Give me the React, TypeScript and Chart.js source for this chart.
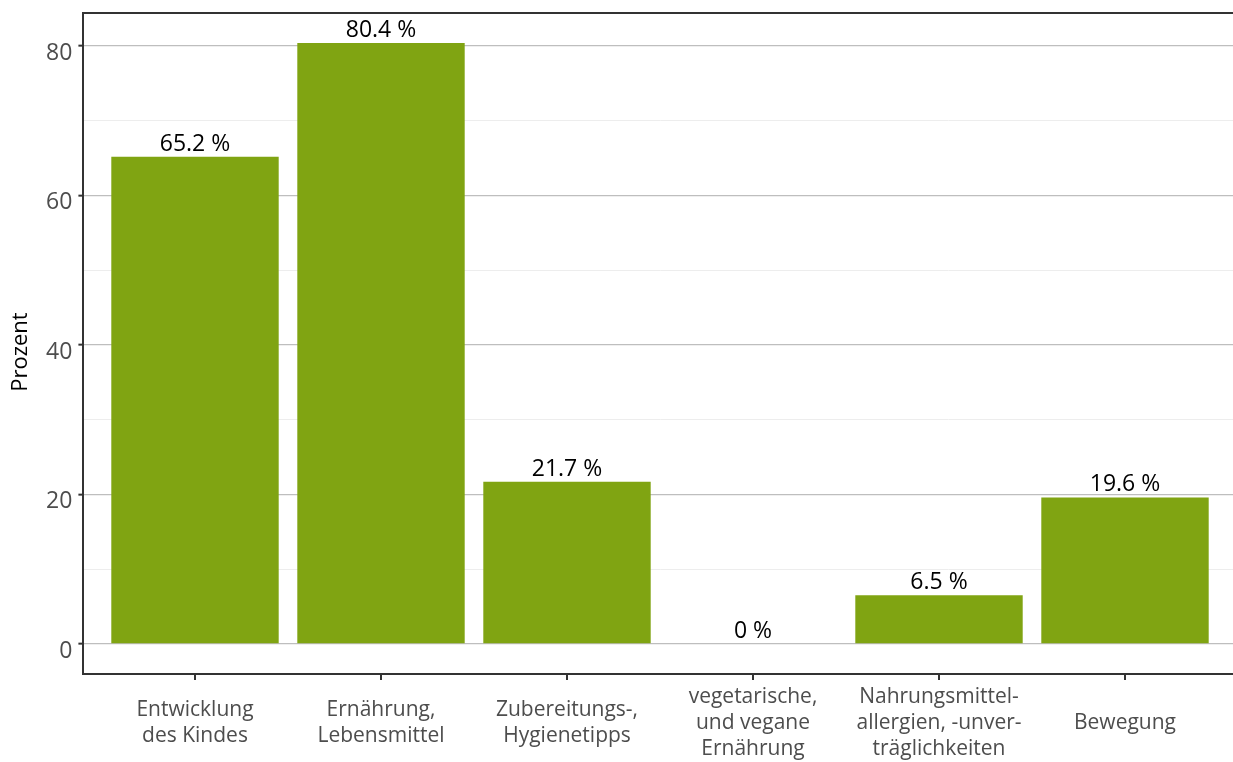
import React, { useEffect, useRef } from 'react';
import { Chart, registerables } from 'chart.js';

Chart.register(...registerables);

const categories: string[][] = [
  ['Entwicklung', 'des Kindes'],
  ['Ernährung,', 'Lebensmittel'],
  ['Zubereitungs-,', 'Hygienetipps'],
  ['vegetarische,', 'und vegane', 'Ernährung'],
  ['Nahrungsmittel-', 'allergien, -unver-', 'träglichkeiten'],
  ['Bewegung'],
];
const values: number[] = [65.2, 80.4, 21.7, 0, 6.5, 19.6];
const yTicks: number[] = [0, 10, 20, 30, 40, 50, 60, 70, 80];
const yMajorTicks: number[] = [0, 20, 40, 60, 80];

const FONT = '"Open Sans", "Noto Sans", sans-serif';
const BAR_COLOR = '#80a412';
const AXIS_COLOR = '#333333';

const isMajor = (v: number) => yMajorTicks.includes(v);

const valueLabelPlugin = {
  id: 'valueLabels',
  afterDatasetsDraw(chart: any) {
    const meta = chart.getDatasetMeta(0);
    const ctx = chart.ctx;
    ctx.save();
    ctx.font = `23px ${FONT}`;
    ctx.fillStyle = '#000000';
    ctx.textAlign = 'center';
    ctx.textBaseline = 'alphabetic';
    meta.data.forEach((bar: any, i: number) => {
      ctx.fillText(`${values[i]} %`, bar.x, bar.y - 6);
    });
    ctx.restore();
  },
};

export default function App() {
  const canvasRef = useRef<HTMLCanvasElement | null>(null);

  useEffect(() => {
    if (!canvasRef.current) return;
    const chart = new Chart(canvasRef.current, {
      type: 'bar',
      data: {
        datasets: [
          {
            data: values.map((v, i) => ({ x: i, y: v })),
            backgroundColor: BAR_COLOR,
            borderWidth: 0,
            categoryPercentage: 1,
            barPercentage: 0.9,
          },
        ],
      },
      options: {
        responsive: false,
        maintainAspectRatio: false,
        animation: false,
        devicePixelRatio: 1,
        layout: { padding: { left: 0, right: 3.4, top: 0, bottom: 0 } },
        plugins: {
          legend: { display: false },
          tooltip: { enabled: false },
        },
        scales: {
          x: {
            type: 'linear',
            position: 'bottom',
            min: -0.6,
            max: 5.6,
            offset: false,
            afterBuildTicks: (scale: any) => {
              scale.ticks = categories.map((_, i) => ({ value: i }));
            },
            afterFit: (scale: any) => {
              scale.height = 88;
              scale.paddingLeft = 0;
              scale.paddingRight = 0;
            },
            grid: {
              display: true,
              offset: false,
              drawOnChartArea: false,
              drawTicks: true,
              tickLength: 6,
              color: AXIS_COLOR,
              lineWidth: 2,
            },
            border: { display: true, color: AXIS_COLOR, width: 2 },
            ticks: {
              autoSkip: false,
              maxRotation: 0,
              minRotation: 0,
              padding: 17,
              crossAlign: 'center',
              color: '#4d4d4d',
              font: { family: FONT, size: 21, lineHeight: 1.24 },
              callback: (value: any) => categories[Math.round(Number(value))] ?? '',
            },
          },
          xTop: {
            type: 'linear',
            position: 'top',
            min: -0.6,
            max: 5.6,
            offset: false,
            afterFit: (scale: any) => {
              scale.height = 13;
              scale.paddingLeft = 0;
              scale.paddingRight = 0;
            },
            grid: { display: true, drawOnChartArea: false, drawTicks: false },
            border: { display: true, color: AXIS_COLOR, width: 2 },
            ticks: { display: false },
          },
          y: {
            type: 'linear',
            position: 'left',
            min: -4.02,
            max: 84.42,
            afterBuildTicks: (scale: any) => {
              scale.ticks = yTicks.map((v) => ({ value: v }));
            },
            afterFit: (scale: any) => {
              scale.width = 83.4;
              scale.paddingTop = 0;
              scale.paddingBottom = 0;
            },
            grid: {
              display: true,
              drawOnChartArea: true,
              drawTicks: true,
              tickLength: 5,
              tickWidth: 2,
              color: (ctx: any) => (ctx.tick && isMajor(ctx.tick.value) ? '#bebebe' : '#ededed'),
              lineWidth: (ctx: any) => (ctx.tick && isMajor(ctx.tick.value) ? 1.3 : 1),
              tickColor: (ctx: any) =>
                ctx.tick && isMajor(ctx.tick.value) ? AXIS_COLOR : 'rgba(0,0,0,0)',
            },
            border: { display: true, color: AXIS_COLOR, width: 2 },
            ticks: {
              autoSkip: false,
              padding: 6,
              labelOffset: 7,
              color: '#4d4d4d',
              font: { family: FONT, size: 23 },
              callback: (value: any) => (isMajor(Number(value)) ? String(value) : ''),
            },
            title: {
              display: true,
              text: 'Prozent\u00a0\u00a0\u00a0',
              color: '#000000',
              font: { family: FONT, size: 22 },
              padding: { top: 8, bottom: 0 },
            },
          },
        },
      } as any,
      plugins: [valueLabelPlugin],
    });
    return () => chart.destroy();
  }, []);

  return (
    <div
      style={{
        position: 'fixed',
        left: 0,
        top: 0,
        width: 1233,
        height: 762,
        overflow: 'hidden',
        background: '#ffffff',
      }}
    >
      <canvas ref={canvasRef} width={1240} height={762} style={{ display: 'block' }} />
    </div>
  );
}
